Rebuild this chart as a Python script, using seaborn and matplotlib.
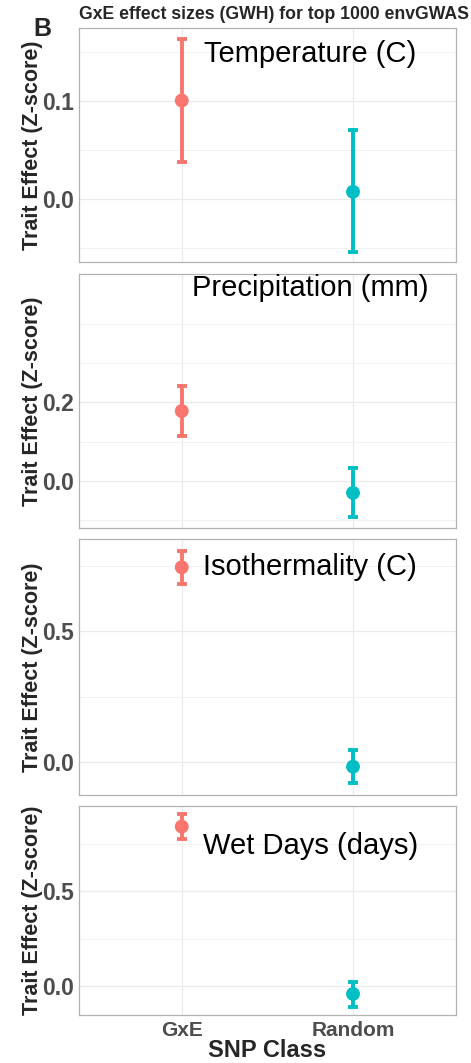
import matplotlib
matplotlib.use("Agg")
import matplotlib.pyplot as plt
import numpy as np
import pandas as pd
import seaborn as sns

snp_class = ["GxE", "Random"]
env_names = ["Temperature (C)", "Precipitation (mm)", "Isothermality (C)", "Wet Days (days)"]
effect = [[0.100, 0.007], [0.178, -0.030], [0.744, -0.017], [0.842, -0.042]]
err_low = [[0.0375, -0.0547], [0.115, -0.092], [0.681, -0.080], [0.775, -0.109]]
err_high = [[0.163, 0.070], [0.2415, 0.033], [0.808, 0.047], [0.907, 0.021]]
label_y = [0.147, 0.49, 0.745, 0.742]
y_limits = [(-0.0646, 0.174), (-0.120, 0.526), (-0.124, 0.851), (-0.153, 0.952)]
major_ticks = [[0.0, 0.1], [0.0, 0.2], [0.0, 0.5], [0.0, 0.5]]
minor_grid = [[-0.05, 0.05, 0.15], [-0.1, 0.1, 0.3, 0.4], [0.25, 0.75], [0.25, 0.75]]

colors = ["#F8766D", "#00BFC4"]

sns.set_style("white")
plt.rcParams["font.family"] = ["Liberation Sans", "DejaVu Sans"]

fig = plt.figure(figsize=(4.71, 10.63), dpi=100)

# panel boxes in figure fractions (left, bottom, width, height)
boxes = [(0.1677, 0.7535, 0.800, 0.2202),
         (0.1677, 0.5030, 0.800, 0.2392),
         (0.1677, 0.2524, 0.800, 0.2403),
         (0.1677, 0.0452, 0.800, 0.1968)]

for i, env in enumerate(env_names):
    ax = fig.add_axes(boxes[i])
    df = pd.DataFrame({"SNP Class": snp_class,
                       "effect": effect[i],
                       "lo": err_low[i],
                       "hi": err_high[i]})
    for j, row in df.iterrows():
        ax.errorbar(row["SNP Class"], row["effect"],
                    yerr=[[row["effect"] - row["lo"]], [row["hi"] - row["effect"]]],
                    color=colors[j], elinewidth=2.8, capsize=3.3, capthick=2.8,
                    fmt="none", zorder=3)
    sns.scatterplot(data=df, x="SNP Class", y="effect", hue="SNP Class",
                    palette=colors, s=100, edgecolor="none", legend=False,
                    ax=ax, zorder=4)
    ax.set_xlim(-0.6, 1.6)
    ax.set_ylim(*y_limits[i])
    ax.set_yticks(major_ticks[i])
    ax.set_yticklabels(["%.1f" % t for t in major_ticks[i]])
    ax.set_yticks(minor_grid[i], minor=True)
    ax.grid(True, which="major", color="#EBEBEB", linewidth=0.9, zorder=0)
    ax.grid(True, which="minor", axis="y", color="#F2F2F2", linewidth=0.7, zorder=0)
    ax.set_axisbelow(True)
    for sp in ax.spines.values():
        sp.set_visible(True)
        sp.set_color("#B3B3B3")
        sp.set_linewidth(0.9)
    ax.tick_params(axis="both", which="major", length=2.5, width=0.8, color="#B3B3B3",
                   labelcolor="#4D4D4D", pad=1)
    ax.tick_params(axis="y", labelsize=16.5)
    ax.tick_params(axis="y", which="minor", length=0)
    for lab in ax.get_yticklabels() + ax.get_xticklabels():
        lab.set_fontweight("bold")
    ax.set_ylabel("Trait Effect (Z-score)", fontsize=15.5, fontweight="bold")
    ax.yaxis.set_label_coords(-0.096, 0.5)
    if i < 3:
        ax.set_xlabel("")
        ax.set_xticklabels([])
    else:
        ax.set_xlabel("SNP Class", fontsize=17, fontweight="bold", labelpad=-1)
        ax.tick_params(axis="x", labelsize=15, pad=2)
    ax.text(0.75, label_y[i], env, fontsize=21, ha="center", va="center", color="black")

fig.text(0.1677, 0.986, "GxE effect sizes (GWH) for top 1000 envGWAS",
         fontsize=12.7, fontweight="bold", ha="left", va="center")
fig.text(0.071, 0.966, "B", fontsize=18, fontweight="bold", ha="left", va="baseline")

fig.savefig("out.png", dpi=100)
